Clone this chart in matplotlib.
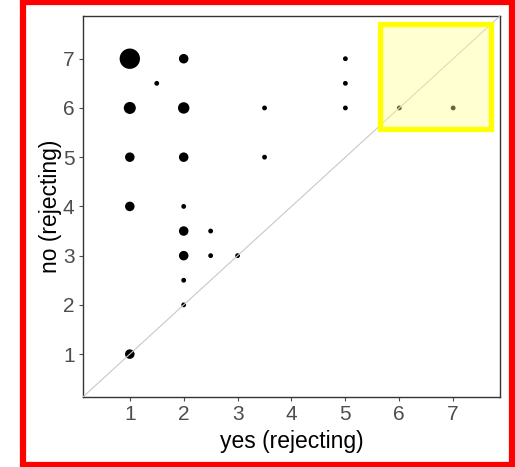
import matplotlib
matplotlib.use("Agg")
import matplotlib.pyplot as plt
from matplotlib.patches import Rectangle

# =========================================================
# Data
# =========================================================
yes_rejecting = [1, 2, 1.5, 5, 5, 5, 1, 2, 3.5, 6, 7, 1, 2, 3.5, 1, 2,
                 2, 2.5, 2, 2.5, 3, 2, 2, 1]
no_rejecting = [7, 7, 6.5, 7, 6.5, 6, 6, 6, 6, 6, 6, 5, 5, 5, 4, 4,
                3.5, 3.5, 3, 3, 3, 2.5, 2, 1]
counts = [30, 6, 1, 1, 1, 1, 10, 9, 1, 1, 1, 6, 6, 1, 6, 1,
          6, 1, 6, 1, 1, 1, 1, 6]

tick_values = [1, 2, 3, 4, 5, 6, 7]
axis_lim = (0.13, 7.87)
highlight_x = (5.65, 7.71)
highlight_y = (5.58, 7.71)

plt.rcParams["font.family"] = ["Liberation Sans", "DejaVu Sans"]

fig = plt.figure(figsize=(5.15, 4.67), dpi=100)
ax = fig.add_axes([0.161, 0.150, 0.810, 0.816])

ax.scatter(yes_rejecting, no_rejecting, s=[5 + 7 * c for c in counts],
           color="black", linewidths=0, zorder=2)
ax.axline((1, 1), slope=1, color="#c8c8c8", linewidth=0.8, zorder=3)

ax.set_xlim(*axis_lim)
ax.set_ylim(*axis_lim)
ax.set_xticks(tick_values)
ax.set_yticks(tick_values)
ax.tick_params(colors="#4d4d4d", labelsize=15, length=3, width=0.8, pad=3)
for sp in ax.spines.values():
    sp.set_color("#333333")
    sp.set_linewidth(1.0)

ax.set_xlabel("yes (rejecting)", fontsize=16.5, color="black", labelpad=4)
ax.set_ylabel("no (rejecting)", fontsize=16.5, color="black", labelpad=1)

# highlighted corner box
ax.add_patch(Rectangle((highlight_x[0], highlight_y[0]),
                       highlight_x[1] - highlight_x[0],
                       highlight_y[1] - highlight_y[0],
                       facecolor=(1.0, 1.0, 0.55, 0.4), edgecolor="#ffff00",
                       linewidth=3.8, zorder=4))

# red frame around the whole picture
fig.add_artist(Rectangle((0.045, 0.005), 0.95, 0.99, transform=fig.transFigure,
                         fill=False, edgecolor="#ff0000", linewidth=4.5))

fig.savefig("out.png", dpi=100)
